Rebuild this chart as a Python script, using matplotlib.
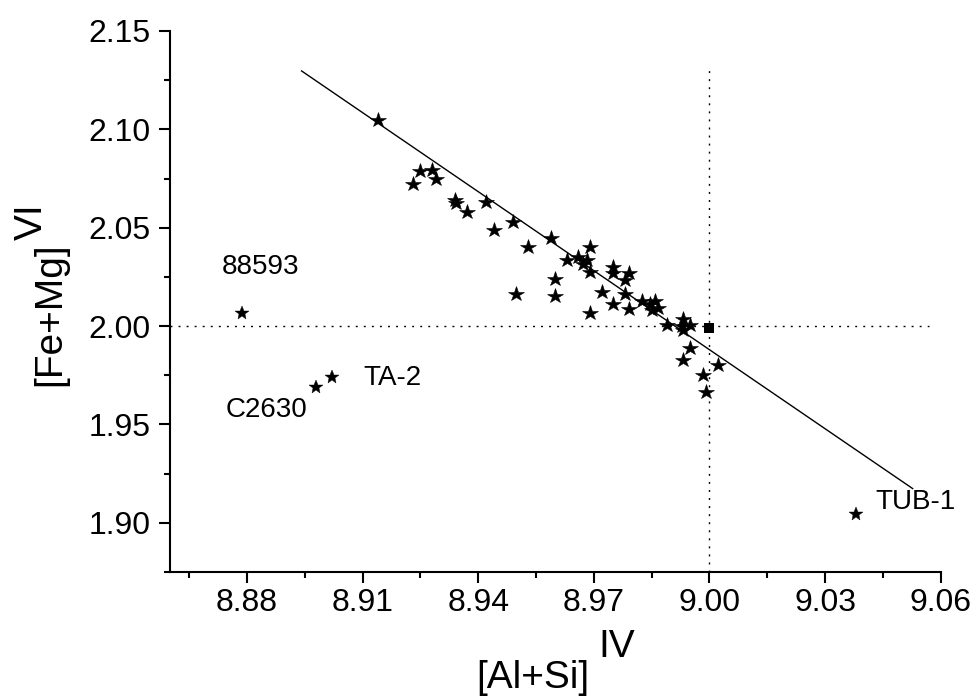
import matplotlib
matplotlib.use("Agg")
import matplotlib.pyplot as plt
from matplotlib.ticker import FixedLocator, MultipleLocator

plt.rcParams['font.family'] = ['Liberation Sans', 'DejaVu Sans']

# ---- data ----
cluster_x = [8.9139, 8.9230, 8.9249, 8.9281, 8.9291, 8.9340, 8.9342, 8.9370, 8.9420,
             8.9441, 8.9490, 8.9530, 8.9589, 8.9499, 8.9599, 8.9599, 8.9630, 8.9660,
             8.9671, 8.9682, 8.9689, 8.9690, 8.9721, 8.9750, 8.9751, 8.9790, 8.9782,
             8.9781, 8.9690, 8.9751, 8.9790, 8.9824, 8.9846, 8.9859, 8.9867, 8.9850,
             8.9889, 8.9931, 8.9928, 8.9950, 8.9931, 8.9950, 8.9931, 9.0022, 8.9983,
             8.9991]
cluster_y = [2.1049, 2.0720, 2.0788, 2.0791, 2.0746, 2.0642, 2.0627, 2.0579, 2.0630,
             2.0486, 2.0527, 2.0400, 2.0449, 2.0161, 2.0237, 2.0153, 2.0337, 2.0350,
             2.0317, 2.0335, 2.0401, 2.0275, 2.0171, 2.0300, 2.0269, 2.0270, 2.0233,
             2.0161, 2.0066, 2.0110, 2.0088, 2.0125, 2.0113, 2.0130, 2.0093, 2.0083,
             2.0008, 2.0037, 2.0003, 2.0008, 1.9978, 1.9890, 1.9829, 1.9801, 1.9749,
             1.9664]

outlier_names = ['88593', 'TA-2', 'C2630', 'TUB-1']
outlier_x = [8.8786, 8.9020, 8.8978, 9.0381]
outlier_y = [2.0068, 1.9740, 1.9689, 1.9045]

ideal_x = [9.000]
ideal_y = [1.999]

fit_x = [8.8940, 9.0529]
fit_y = [2.1299, 1.9172]

ref_vline_x = 9.00
ref_vline_top = 2.13
ref_hline_y = 2.00
ref_hline_right = 9.057

xticks = [8.88, 8.91, 8.94, 8.97, 9.00, 9.03, 9.06]
xtick_labels = ['8.88', '8.91', '8.94', '8.97', '9.00', '9.03', '9.06']
yticks = [1.90, 1.95, 2.00, 2.05, 2.10, 2.15]
ytick_labels = ['1.90', '1.95', '2.00', '2.05', '2.10', '2.15']

xlabel_main = '[Al+Si]'
xlabel_sup = 'IV'
ylabel_main = '[Fe+Mg]'
ylabel_sup = 'VI'

# ---- figure ----
fig = plt.figure(figsize=(9.75, 6.98), dpi=100)
ax = fig.add_axes([170/975, 1-572/698, (940.6-170)/975, (572-31)/698])
ax.set_xlim(8.86, 9.06)
ax.set_ylim(1.875, 2.15)

dot = (0, (1.4, 4.4))
ax.vlines(ref_vline_x, 1.875, ref_vline_top, colors='black', linestyles=dot, linewidth=1.0)
ax.hlines(ref_hline_y, 8.86, ref_hline_right, colors='black', linestyles=dot, linewidth=1.0)

ax.plot(fit_x, fit_y, color='black', linewidth=1.0, solid_capstyle='butt')

ax.plot(cluster_x, cluster_y, linestyle='none', marker='*', markersize=11.5,
        color='black', markeredgewidth=0.4, clip_on=False)
ax.plot(outlier_x, outlier_y, linestyle='none', marker='*', markersize=10,
        color='black', markeredgewidth=0.3, clip_on=False)
ax.plot(ideal_x, ideal_y, linestyle='none', marker='s', markersize=6.7,
        color='black', markeredgewidth=0)

offsets = {'88593': (-14.4, 28.1), 'TA-2': (22.7, -5.3),
           'C2630': (-64.6, -21.6), 'TUB-1': (13.7, 3.6)}
for name, x, y in zip(outlier_names, outlier_x, outlier_y):
    ax.annotate(name, (x, y), xytext=offsets[name], textcoords='offset points',
                ha='left', va='baseline', fontsize=20, color='black')

for s in ['top', 'right']:
    ax.spines[s].set_visible(False)
for s in ['left', 'bottom']:
    ax.spines[s].set_linewidth(1.5)

ax.xaxis.set_major_locator(FixedLocator(xticks))
ax.set_xticklabels(xtick_labels)
ax.yaxis.set_major_locator(FixedLocator(yticks))
ax.set_yticklabels(ytick_labels)
ax.xaxis.set_minor_locator(MultipleLocator(0.015))
ax.yaxis.set_minor_locator(MultipleLocator(0.025))
ax.tick_params(which='major', direction='out', length=8, width=1.5, labelsize=23)
ax.tick_params(which='minor', direction='out', length=4.5, width=1.5)
ax.tick_params(axis='x', which='major', pad=3.5)
ax.tick_params(axis='y', which='major', pad=6)

# axis labels with full-size raised superscripts
fig.text(476.7/975, 1-688/698, xlabel_main, fontsize=28, ha='left', va='baseline')
fig.text(598/975, 1-657/698, xlabel_sup, fontsize=28, ha='left', va='baseline')
fig.text(60/975, 1-386/698, ylabel_main, fontsize=28, rotation=90,
         rotation_mode='anchor', ha='left', va='baseline')
fig.text(42/975, 1-240/698, ylabel_sup, fontsize=28, rotation=90,
         rotation_mode='anchor', ha='left', va='baseline')

fig.savefig('out.png', dpi=100)
